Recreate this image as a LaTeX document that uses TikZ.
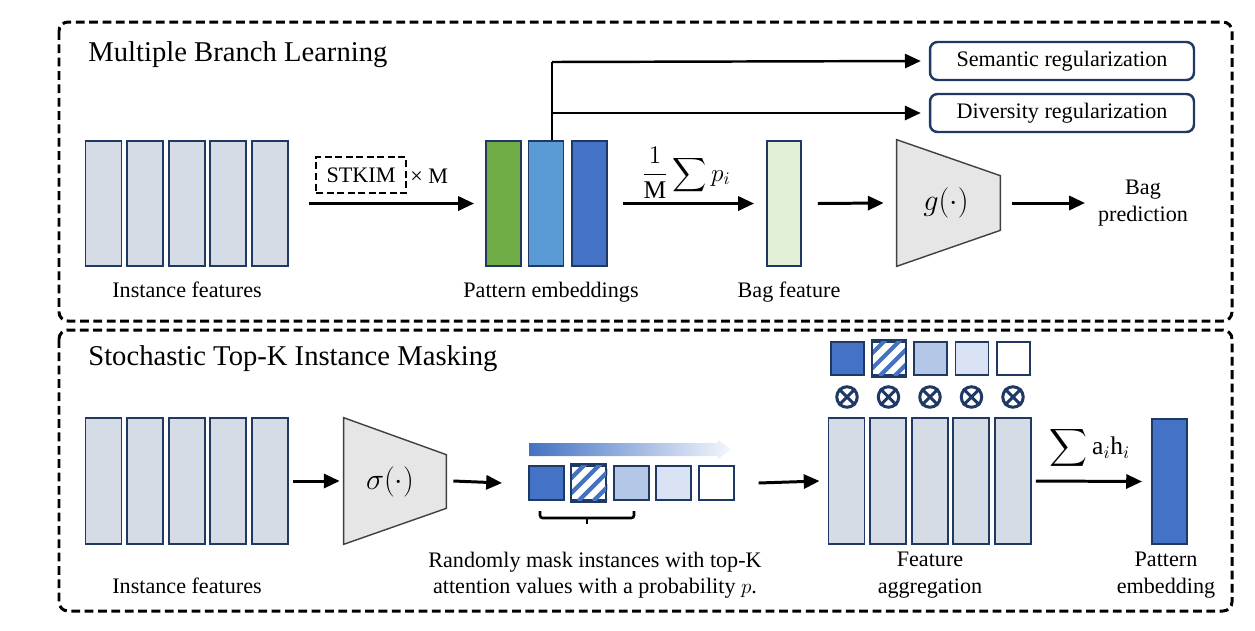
\documentclass[tikz,border=0pt]{standalone}
\usepackage{fontspec}
\setmainfont{Liberation Serif}
\usepackage{graphicx}
\usetikzlibrary{arrows.meta,calc}
\newcommand\MySumOp[1]{\mathop{\vcenter{\hbox{\scalebox{#1}{$\displaystyle\sum$}}}}}
\definecolor{navy}{HTML}{1F3864}
\definecolor{barfill}{HTML}{D6DCE5}
\definecolor{pgreen}{HTML}{70AD47}
\definecolor{lblue}{HTML}{5B9BD5}
\definecolor{dblue}{HTML}{4472C4}
\definecolor{bagfill}{HTML}{E2F0D9}
\definecolor{trapfill}{HTML}{E7E6E6}
\definecolor{sqc}{HTML}{B4C7E7}
\definecolor{sqd}{HTML}{DAE3F3}
\begin{document}
\begin{tikzpicture}[x=0.02cm,y=-0.02cm,
  font=\fontsize{12.6}{15}\selectfont,
  outerbox/.style={draw=black, line width=1.7pt, dash pattern=on 5pt off 2.6pt, rounded corners=0.18cm},
  bar/.style={draw=navy, line width=1.1pt, fill=barfill, minimum width=0.72cm, minimum height=2.5cm, inner sep=0},
  sq/.style={draw=navy, line width=1.1pt, minimum width=0.70cm, minimum height=0.68cm, inner sep=0},
  smsq/.style={draw=navy, line width=1.1pt, minimum width=0.66cm, minimum height=0.66cm, inner sep=0},
  otimes/.style={circle, draw=navy, line width=1.7pt, minimum size=0.41cm, inner sep=0},
  arr/.style={line width=1.7pt, -{Triangle[length=9pt,width=8pt]}},
  thinarr/.style={line width=1.4pt, -{Triangle[length=9pt,width=8pt]}},
  lbl/.style={inner sep=0, anchor=base},
  twolbl/.style={inner sep=0, align=center, anchor=center},
  title/.style={inner sep=0, anchor=base west, font=\fontsize{16.3}{19}\selectfont},
  mathlbl/.style={inner sep=0, font=\fontsize{14.5}{17}\selectfont},
  regbox/.style={draw=navy, line width=1.4pt, rounded corners=0.15cm, minimum width=5.28cm, minimum height=0.76cm, inner sep=0},
  trap/.style={draw=black!75, line width=0.8pt, fill=trapfill},
  stkbox/.style={draw=black, line width=1.3pt, dash pattern=on 4pt off 2pt, minimum width=1.8cm, minimum height=0.72cm, inner sep=0},
  hatch/.style={dblue, line width=2.4pt}
]
\useasboundingbox (0,0) rectangle (1255,630);

% ---------- outer boxes ----------
\draw[outerbox] (59,22) rectangle (1232,321);
\draw[outerbox] (59,330) rectangle (1232,611);

% ---------- top section ----------
\node[title] (t1) at (88,61) {Multiple Branch Learning};

\foreach \i/\x in {1/103.5,2/145.1,3/186.7,4/228.3,5/269.9}
  \node[bar] (ti\i) at (\x,203.5) {};
\node[lbl] (til) at (187,297) {Instance features};

\node[stkbox] (stk) at (361,175) {STKIM};
\node[inner sep=0, anchor=base west] (xm) at (410,183) {× M};

\node[bar, minimum width=0.70cm, fill=pgreen] (pe1) at (503.5,203.5) {};
\node[bar, minimum width=0.70cm, fill=lblue] (pe2) at (546,203.5) {};
\node[bar, minimum width=0.70cm, fill=dblue] (pe3) at (589.5,203.5) {};
\node[lbl] (pel) at (551,297) {Pattern embeddings};

\draw[arr] ($(ti5.east)+(20,0)$) -- ($(pe1.west)+(-11,0)$);

\node[regbox] (sem) at (1062,61) {Semantic regularization};
\node[regbox] (div) at (1062,113) {Diversity regularization};
\coordinate (sp) at (552,62);
\draw[line width=1.4pt] ($(pe2.north)+(6,0)$) -- (sp);
\draw[thinarr] (sp) -- ($(sem.west)+(-8,0)$);
\draw[thinarr] (sp |- div.west) -- ($(div.west)+(-8,0)$);

\node[bar, minimum width=0.68cm, fill=bagfill] (bag) at (784,203.5) {};
\node[lbl] (bagl) at (789,297) {Bag feature};
\node[mathlbl] (avg) at (686,173) {$\displaystyle\frac{1}{\mathrm{M}}\MySumOp{1.35} p_i$};
\draw[arr] ($(pe3.east)+(15,0)$) -- ($(bag.west)+(-12,0)$);

\node[minimum width=2.06cm, minimum height=2.52cm, inner sep=0] (g) at (948.5,203) {};
\draw[trap] (g.north west) -- ($(g.north east)+(0,36)$) -- ($(g.south east)+(0,-36)$) -- (g.south west) -- cycle;
\node[mathlbl, font=\fontsize{16}{19}\selectfont] (gl) at (946,203) {$g(\cdot)$};
\draw[arr] ($(bag.east)+(16,0)$) -- ($(g.west)+(-13,0)$);

\node[twolbl] (pred) at (1143,203) {Bag\\prediction};
\draw[arr] ($(g.east)+(12,0)$) -- (1085,203);

% ---------- bottom section ----------
\node[title] (t2) at (88,365) {Stochastic Top-K Instance Masking};

\foreach \i/\x in {1/103.5,2/145.1,3/186.7,4/228.3,5/269.9}
  \node[bar, minimum height=2.52cm] (bi\i) at (\x,481) {};
\node[lbl] (bil) at (187,593) {Instance features};

\node[minimum width=2.04cm, minimum height=2.52cm, inner sep=0] (sig) at (395,481) {};
\draw[trap] (sig.north west) -- ($(sig.north east)+(0,37)$) -- ($(sig.south east)+(0,-36)$) -- (sig.south west) -- cycle;
\node[mathlbl, font=\fontsize{16}{19}\selectfont] (sigl) at (390,482) {$\sigma(\cdot)$};
\draw[arr] ($(bi5.east)+(4,0)$) -- ($(sig.west)+(-4,0)$);

\node[sq, fill=dblue] (s1) at (546.5,483) {};
\node[sq, fill=white] (s2) at (588.9,483) {};
\node[sq, fill=sqc] (s3) at (631.3,483) {};
\node[sq, fill=sqd] (s4) at (673.7,483) {};
\node[sq, fill=white] (s5) at (716.1,483) {};
\begin{scope}
  \clip (s2.south west) rectangle (s2.north east);
  \foreach \k in {-37,-22,...,38}
    \draw[hatch] ($(s2.south west)+(\k,0)$) -- ++(40,-40);
\end{scope}
\draw[navy, line width=1.1pt] ($(s2.south west)+(0.5pt,-0.5pt)$) rectangle ($(s2.north east)+(-0.5pt,0.5pt)$);

\draw[arr] ($(sig.east)+(7,0)$) -- ($(s1.west)+(-26,0)$);

\shade[left color=dblue, right color=dblue!6] (529,443) -- (718,443) -- (718,440) -- (731,449.5) -- (718,459) -- (718,456) -- (529,456) -- cycle;

\coordinate (br) at (587,518);
\draw[line width=1.5pt, rounded corners=1.5pt] (540,511) |- (br) -- (634,518) -- (634,511);
\draw[line width=1.5pt] (br) -- (587,524);

\node[twolbl] (mask) at (595,575) {Randomly mask instances with top-K\\attention values with a probability $p$.};

\foreach \i/\x in {1/846.5,2/888.1,3/929.7,4/971.3,5/1012.9}
  \node[bar, minimum height=2.52cm] (fa\i) at (\x,481) {};
\draw[arr] ($(s5.east)+(24,0)$) -- ($(fa1.west)+(-8,0)$);

\node[smsq, fill=dblue] (q1) at (847.5,358.5) {};
\node[smsq, fill=white] (q2) at (889,358.5) {};
\node[smsq, fill=sqc] (q3) at (930.5,358.5) {};
\node[smsq, fill=sqd] (q4) at (972,358.5) {};
\node[smsq, fill=white] (q5) at (1013.5,358.5) {};
\begin{scope}
  \clip (q2.south west) rectangle (q2.north east);
  \foreach \k in {-37,-22,...,38}
    \draw[hatch] ($(q2.south west)+(\k,0)$) -- ++(40,-40);
\end{scope}
\draw[navy, line width=1.1pt] ($(q2.south west)+(0.5pt,-0.5pt)$) rectangle ($(q2.north east)+(-0.5pt,0.5pt)$);

\foreach \i/\x in {1/847,2/888.5,3/930,4/971.5,5/1013}{
  \node[otimes] (c\i) at (\x,397) {};
  \draw[navy, line width=1.7pt] (c\i.45) -- (c\i.225) (c\i.135) -- (c\i.315);
}

\node[twolbl] (fal) at (930,575) {Feature\\aggregation};

\node[bar, minimum width=0.70cm, minimum height=2.5cm, fill=dblue] (pb) at (1169.5,481.5) {};
\node[twolbl] (pbl) at (1166,575) {Pattern\\embedding};
\node[mathlbl] (agg) at (1090,448) {$\MySumOp{1.5}\mathrm{a}_i\mathrm{h}_i$};
\draw[arr] ($(fa5.east)+(4,0)$) -- ($(pb.west)+(-9,0)$);

\end{tikzpicture}
\end{document}
